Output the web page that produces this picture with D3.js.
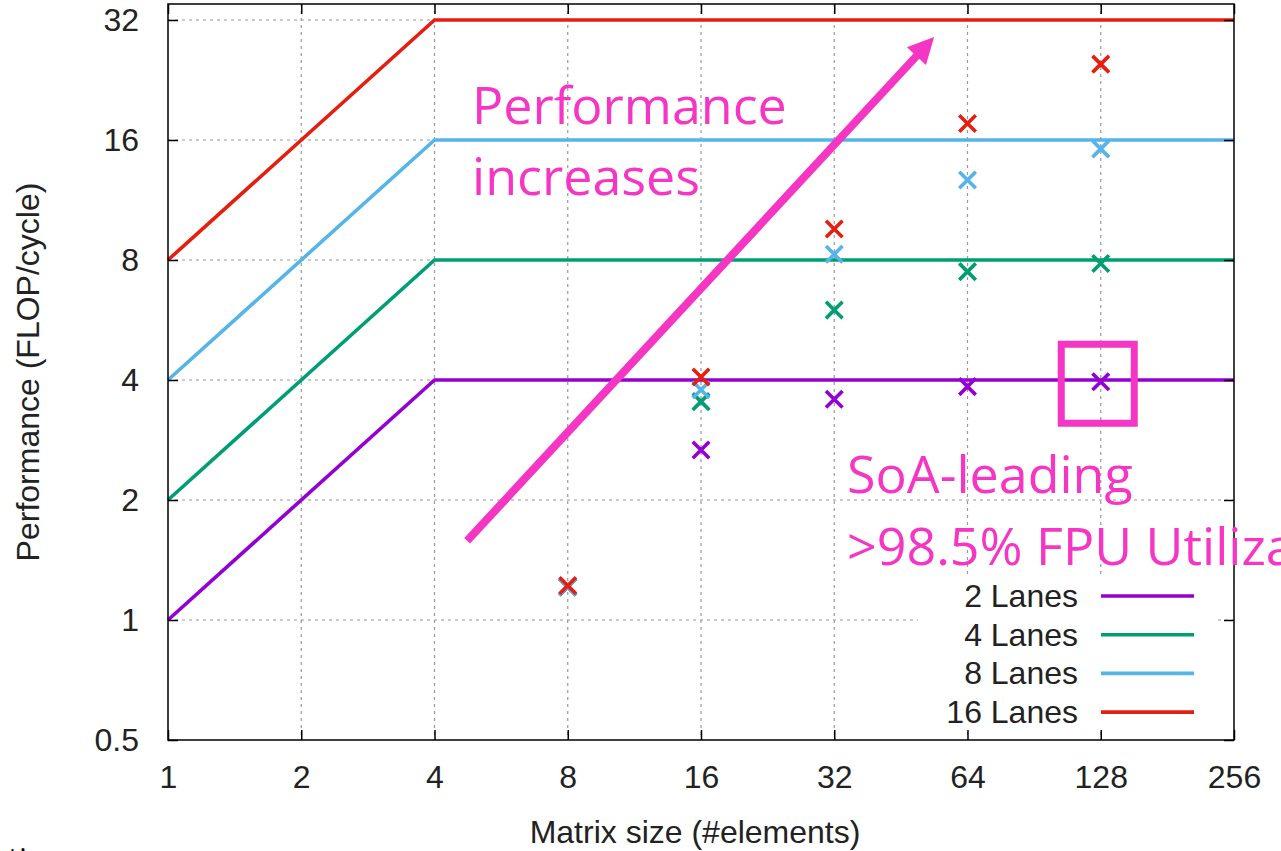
<!DOCTYPE html>
<html>
<head>
<meta charset="utf-8">
<script src="https://cdn.jsdelivr.net/npm/d3@7"></script>
<style>
  body { margin: 0; background: #fff; }
  svg { display: block; }
</style>
</head>
<body>
<svg id="chart" width="1281" height="851"></svg>
<script>
// --- data ---
const laneNames = ["2 Lanes", "4 Lanes", "8 Lanes", "16 Lanes"];
const laneColors = ["#9400d3", "#009e73", "#56b4e9", "#e51e10"];

// roofline: perf at size 1, knee at size 4, flat peak after
const roofStart = [1, 2, 4, 8];
const roofPeak = [4, 8, 16, 32];
const roofKnee = 4;
const roofEnd = 256;

// measured points
const matrixSizes = [8, 16, 32, 64, 128];
const perf2 = [1.21, 2.67, 3.58, 3.85, 3.96];
const perf4 = [1.21, 3.53, 5.99, 7.48, 7.84];
const perf8 = [1.21, 3.78, 8.27, 12.7, 15.2];
const perf16 = [1.22, 4.07, 9.57, 17.6, 24.8];
const measured = [perf2, perf4, perf8, perf16];

const xTicks = [1, 2, 4, 8, 16, 32, 64, 128, 256];
const yTicks = [0.5, 1, 2, 4, 8, 16, 32];

const pink = "#f535c3";
const axisFont = "'Liberation Sans', Arial, sans-serif";
const noteFont = "'Open Sans', 'Noto Sans', sans-serif";

// --- layout ---
const plot = { left: 168, right: 1234, top: 4, bottom: 740 };

const svg = d3.select("#chart");

const x = d3.scaleLog().base(2)
  .domain([1, 256])
  .range([plot.left, plot.right]);

const y = d3.scaleLog().base(2)
  .domain([0.5, 35.1])
  .range([plot.bottom, plot.top]);

// grid
const grid = svg.append("g")
  .attr("stroke", "#999")
  .attr("stroke-width", 1.2)
  .attr("stroke-dasharray", "3,4");

grid.selectAll(".gx")
  .data(xTicks.filter(d => d > 1 && d < 256))
  .join("line")
    .attr("x1", d => x(d)).attr("x2", d => x(d))
    .attr("y1", plot.top).attr("y2", plot.bottom);

grid.selectAll(".gy")
  .data(yTicks.filter(d => d > 0.5))
  .join("line")
    .attr("x1", plot.left).attr("x2", plot.right)
    .attr("y1", d => y(d)).attr("y2", d => y(d));

// legend background (opaque, hides grid)
const legend = { x0: 918, x1: 1215, y0: 578, rowH: 38.7, firstRow: 596, textX: 1078, lineX0: 1101, lineX1: 1194 };
svg.append("rect")
  .attr("x", legend.x0)
  .attr("y", legend.y0)
  .attr("width", legend.x1 - legend.x0)
  .attr("height", 154)
  .attr("fill", "#fff");

// roofline lines
const roofLine = d3.line().x(d => x(d[0])).y(d => y(d[1]));
svg.append("g")
  .selectAll("path")
  .data(laneNames.map((n, i) => [[1, roofStart[i]], [roofKnee, roofPeak[i]], [roofEnd, roofPeak[i]]]))
  .join("path")
    .attr("d", roofLine)
    .attr("fill", "none")
    .attr("stroke", (d, i) => laneColors[i])
    .attr("stroke-width", 3.6)
    .attr("stroke-linejoin", "round");

// measured points as crosses
const crossSize = 7;
measured.forEach((series, i) => {
  svg.append("g")
    .attr("stroke", laneColors[i])
    .attr("stroke-width", 3.6)
    .attr("stroke-linecap", "square")
    .selectAll("path")
    .data(series.map((v, j) => [matrixSizes[j], v]))
    .join("path")
      .attr("d", d => {
        const cx = x(d[0]), cy = y(d[1]), s = crossSize;
        return `M${cx - s},${cy - s}L${cx + s},${cy + s}M${cx - s},${cy + s}L${cx + s},${cy - s}`;
      });
});

// axes (inward ticks, mirrored)
const bottomAxis = svg.append("g")
  .attr("transform", `translate(0,${plot.bottom})`)
  .call(d3.axisBottom(x).tickValues(xTicks).tickFormat(d3.format("d")).tickSize(-10).tickSizeOuter(0).tickPadding(25));
const topAxis = svg.append("g")
  .attr("transform", `translate(0,${plot.top})`)
  .call(d3.axisTop(x).tickValues(xTicks).tickFormat("").tickSize(-10).tickSizeOuter(0));
const leftAxis = svg.append("g")
  .attr("transform", `translate(${plot.left},0)`)
  .call(d3.axisLeft(y).tickValues(yTicks).tickFormat(d => d).tickSize(-10).tickSizeOuter(0).tickPadding(29));
const rightAxis = svg.append("g")
  .attr("transform", `translate(${plot.right},0)`)
  .call(d3.axisRight(y).tickValues(yTicks).tickFormat("").tickSize(-10).tickSizeOuter(0));

[bottomAxis, topAxis, leftAxis, rightAxis].forEach(a => {
  a.select(".domain").remove();
  a.selectAll("line").attr("stroke", "#000").attr("stroke-width", 1.5);
  a.selectAll("text")
    .attr("fill", "#222")
    .style("font-family", axisFont)
    .style("font-size", "32px");
});

// frame
svg.append("rect")
  .attr("x", plot.left).attr("y", plot.top)
  .attr("width", plot.right - plot.left)
  .attr("height", plot.bottom - plot.top)
  .attr("fill", "none")
  .attr("stroke", "#000")
  .attr("stroke-width", 1.5);

// axis titles
svg.append("text")
  .attr("x", (plot.left + plot.right) / 2 - 6)
  .attr("y", 843)
  .attr("text-anchor", "middle")
  .attr("fill", "#222")
  .style("font-family", axisFont)
  .style("font-size", "32px")
  .text("Matrix size (#elements)");

svg.append("text")
  .attr("transform", `translate(39,${(plot.top + plot.bottom) / 2}) rotate(-90)`)
  .attr("text-anchor", "middle")
  .attr("fill", "#222")
  .style("font-family", axisFont)
  .style("font-size", "32px")
  .text("Performance (FLOP/cycle)");

// legend entries
const leg = svg.append("g");
laneNames.forEach((name, i) => {
  const ry = legend.firstRow + i * legend.rowH;
  leg.append("text")
    .attr("x", legend.textX)
    .attr("y", ry + 11)
    .attr("text-anchor", "end")
    .attr("fill", "#222")
    .style("font-family", axisFont)
    .style("font-size", "32px")
    .text(name);
  leg.append("line")
    .attr("x1", legend.lineX0).attr("x2", legend.lineX1)
    .attr("y1", ry).attr("y2", ry)
    .attr("stroke", laneColors[i])
    .attr("stroke-width", 3.6);
});

// --- annotations ---
const arrowFrom = [4.74, 1.58];
const arrowTo = [53.8, 29.0];
const ax0 = x(arrowFrom[0]), ay0 = y(arrowFrom[1]);
const ax1 = x(arrowTo[0]), ay1 = y(arrowTo[1]);
const len = Math.hypot(ax1 - ax0, ay1 - ay0);
const ux = (ax1 - ax0) / len, uy = (ay1 - ay0) / len;
const headLen = 26, headHalf = 13;
const bx = ax1 - ux * headLen, by = ay1 - uy * headLen;
svg.append("line")
  .attr("x1", ax0).attr("y1", ay0)
  .attr("x2", bx + ux * 2).attr("y2", by + uy * 2)
  .attr("stroke", pink)
  .attr("stroke-width", 8);
svg.append("path")
  .attr("d", `M${ax1},${ay1}L${bx - uy * headHalf},${by + ux * headHalf}L${bx + uy * headHalf},${by - ux * headHalf}Z`)
  .attr("fill", pink);

// highlight box around the 2-lane point at 128
svg.append("rect")
  .attr("x", x(128) - 39.5)
  .attr("y", y(perf2[4]) - 37.5)
  .attr("width", 73)
  .attr("height", 79)
  .attr("fill", "none")
  .attr("stroke", pink)
  .attr("stroke-width", 7);

const notes = [
  { text: "Performance", x: 472, y: 124 },
  { text: "increases", x: 472, y: 195 },
  { text: "SoA-leading", x: 847, y: 493 },
  { text: ">98.5% FPU Utilization", x: 847, y: 565 }
];
svg.append("g")
  .selectAll("text")
  .data(notes)
  .join("text")
    .attr("x", d => d.x)
    .attr("y", d => d.y)
    .attr("fill", pink)
    .style("font-family", noteFont)
    .style("font-size", "52px")
    .text(d => d.text);

// cut-off text fragment at bottom left
svg.append("text")
  .attr("x", 8)
  .attr("y", 870)
  .attr("fill", "#000")
  .style("font-family", noteFont)
  .style("font-size", "31px")
  .text("ti");
</script>
</body>
</html>
